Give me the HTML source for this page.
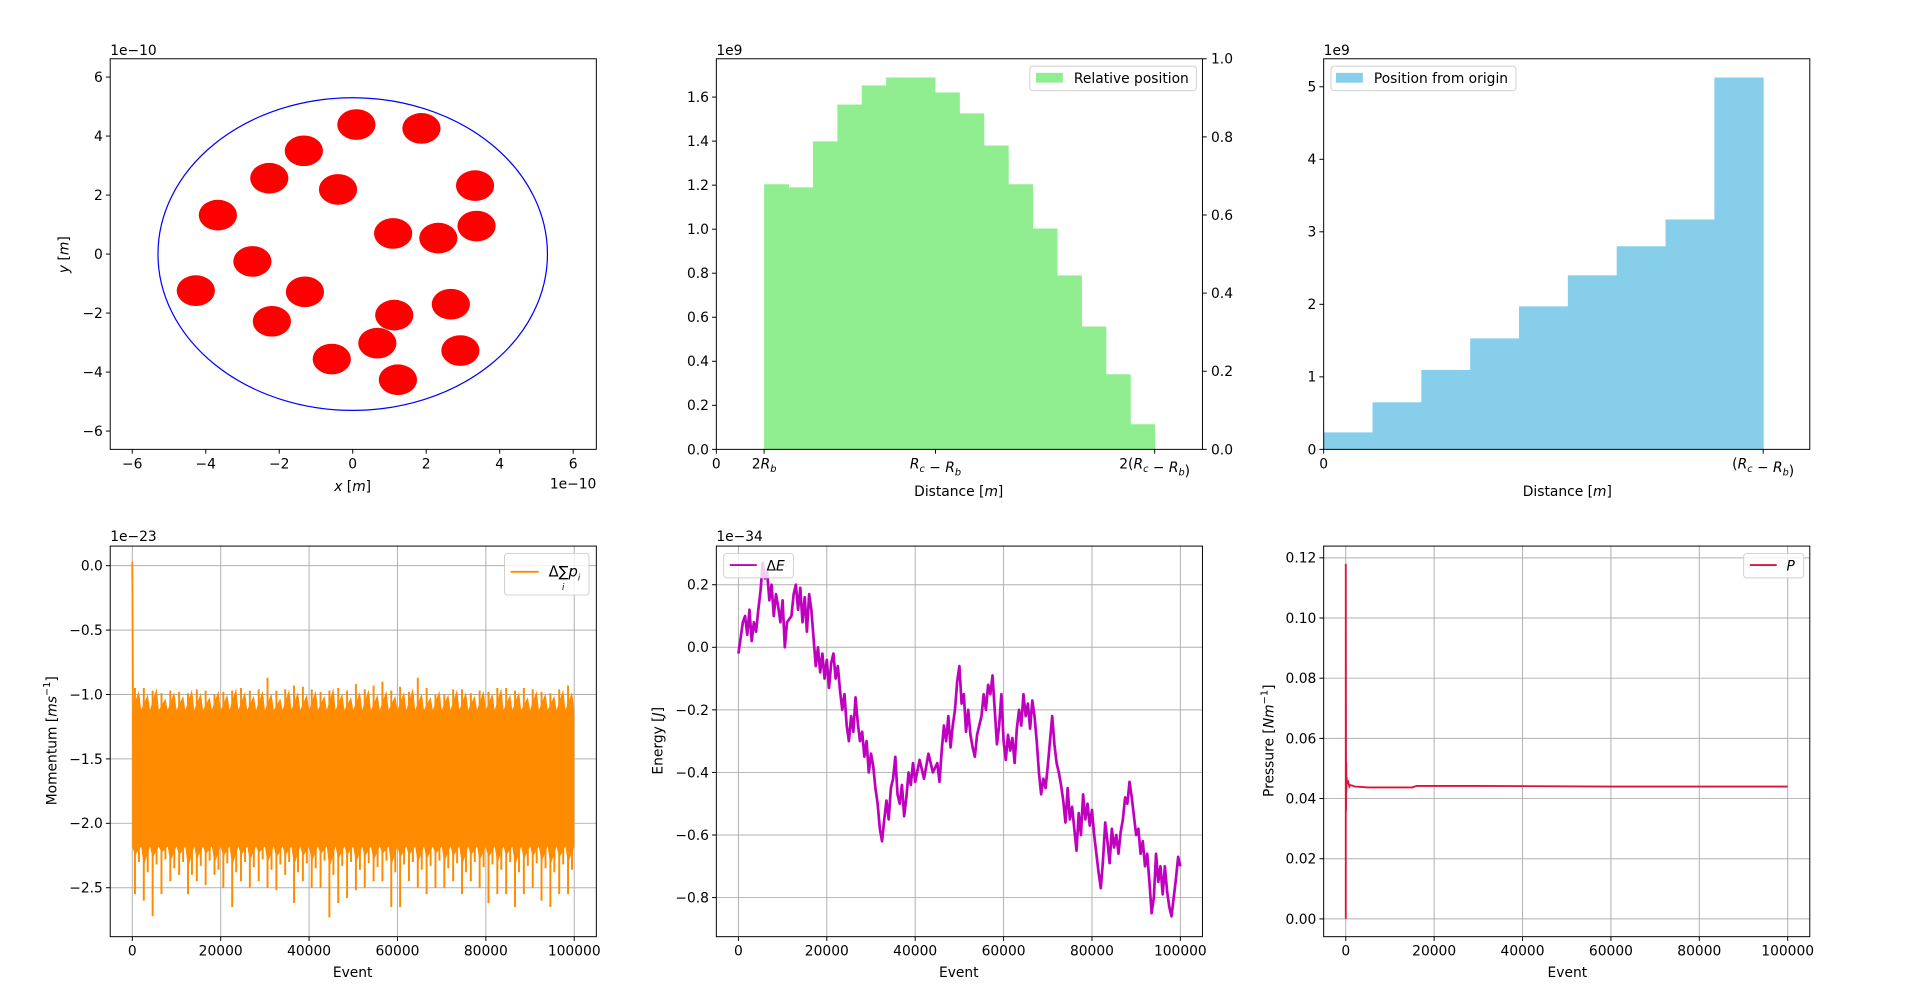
<!DOCTYPE html>
<html><head><meta charset="utf-8"><title>Simulation plots</title>
<style>
html,body{margin:0;padding:0;background:#fff;}
svg{display:block;font-family:"DejaVu Sans","Liberation Sans",sans-serif;}
</style></head>
<body>
<svg id="fig" xmlns="http://www.w3.org/2000/svg" width="1920" height="993" viewBox="0 0 1568 811" preserveAspectRatio="none"></svg>
<script>
// ---------- data ----------
const ballX = [0.1,1.87,-1.33,-2.27,-0.4,3.33,-3.67,1.1,2.33,3.37,-2.73,-4.27,-1.3,1.13,2.67,-2.2,0.67,-0.57,2.93,1.23];
const ballY = [4.39,4.26,3.5,2.57,2.19,2.32,1.32,0.7,0.54,0.95,-0.25,-1.24,-1.28,-2.07,-1.7,-2.28,-3.02,-3.56,-3.27,-4.26];
const ballRadius = 0.52;
const containerRadius = 5.3;
const posTicks = [-6,-4,-2,0,2,4,6];

const relCounts = [1.204,1.19,1.399,1.566,1.653,1.689,1.689,1.621,1.526,1.380,1.204,1.003,0.79,0.558,0.341,0.114];
const relStart = 0.218, relEnd = 2.0;
const relYTicks = [0,0.2,0.4,0.6,0.8,1.0,1.2,1.4,1.6];
const relRightTicks = [0,0.2,0.4,0.6,0.8,1.0];

const originCounts = [0.234,0.649,1.095,1.53,1.972,2.4,2.80,3.17,5.128];
const originYTicks = [0,1,2,3,4,5];

const eventTicks = [0,20000,40000,60000,80000,100000];
const momBinSize = 2000;
const momHigh = [-0.95,-0.95,-0.97,-0.99,-0.97,-0.98,-0.99,-0.96,-0.97,-1.0,-0.98,-0.97,-0.95,-0.97,-0.96,-0.87,-0.97,-0.96,-0.93,-0.94,-0.96,-0.98,-0.97,-0.95,-0.97,-0.92,-0.96,-0.93,-0.90,-0.97,-0.94,-0.98,-0.87,-0.95,-1.0,-1.0,-0.96,-0.96,-0.99,-0.97,-0.98,-0.95,-0.95,-0.97,-0.95,-0.96,-0.98,-0.99,-0.96,-0.93];
const momLow = [-2.55,-2.60,-2.72,-2.55,-2.45,-2.40,-2.55,-2.45,-2.48,-2.40,-2.50,-2.65,-2.45,-2.50,-2.45,-2.50,-2.52,-2.40,-2.62,-2.45,-2.50,-2.50,-2.73,-2.62,-2.58,-2.52,-2.50,-2.45,-2.45,-2.65,-2.65,-2.45,-2.50,-2.55,-2.50,-2.50,-2.45,-2.55,-2.45,-2.50,-2.62,-2.55,-2.55,-2.65,-2.55,-2.50,-2.60,-2.65,-2.55,-2.55];
const momHigh2 = [-1.02,-1.05,-1.0,-1.08,-1.03,-1.06,-1.01,-1.04,-1.07,-1.02,-1.05,-1.0,-1.03,-1.06,-1.02,-1.04,-1.08,-1.01,-1.03,-1.05,-1.02,-1.06,-1.0,-1.04,-1.07,-1.03,-1.01,-1.05,-1.02,-1.06,-1.03,-1.0,-1.04,-1.07,-1.02,-1.05,-1.01,-1.03,-1.06,-1.02,-1.04,-1.0,-1.05,-1.03,-1.07,-1.02,-1.04,-1.06,-1.01,-1.03];
const momLow2 = [-2.30,-2.38,-2.32,-2.28,-2.35,-2.30,-2.40,-2.33,-2.29,-2.36,-2.31,-2.38,-2.30,-2.34,-2.28,-2.36,-2.32,-2.30,-2.38,-2.31,-2.35,-2.29,-2.40,-2.33,-2.30,-2.36,-2.31,-2.34,-2.29,-2.38,-2.32,-2.30,-2.36,-2.33,-2.29,-2.35,-2.31,-2.38,-2.30,-2.34,-2.32,-2.36,-2.30,-2.38,-2.33,-2.31,-2.35,-2.38,-2.32,-2.36];
const momCoreHigh = -1.12, momCoreLow = -2.18;
const momSpikeX = [0,0,150,300];
const momSpikeY = [-0.1,0.03,-1.0,-2.2];
const momYTicks = [0,-0.5,-1.0,-1.5,-2.0,-2.5];

const energyX = [0,500,1000,1500,2000,2500,3000,3500,4000,4500,5000,5500,6000,6500,7000,7500,8000,8500,9000,9500,10000,10500,11000,12000,12500,13000,13500,14000,14500,15000,15500,16000,16500,17000,17500,18000,18500,19000,19500,20000,20500,21000,21500,22000,22500,23000,23500,24000,24500,25000,25500,26000,26500,27000,27500,28000,28500,29000,29500,30000,30500,31000,31500,32000,32500,33000,33500,34000,34500,35000,35500,36000,36500,37000,37500,38000,38500,39000,39500,40000,41000,42000,43000,44000,45000,45500,46000,46500,47000,47500,48000,48500,49000,49500,50000,50500,51000,51500,52000,52500,53000,53500,54000,55000,55500,56000,56500,57000,57500,58000,58500,59000,59500,60000,60500,61000,61500,62000,62500,63000,63500,64000,64500,65000,65500,66000,66500,67000,67500,68000,68500,69000,69500,70000,70500,71000,71500,72000,72500,73000,73500,74000,74500,75000,75500,76000,76500,77000,77500,78000,78500,79000,79500,80000,80500,81000,81500,82000,82500,83000,83500,84000,84500,85000,85500,86000,86500,87000,87500,88000,88500,89000,89500,90000,90500,91000,91500,92000,92500,93000,93500,94000,94500,95000,95500,96000,96500,97000,97500,98000,98500,99000,99500,100000];
const energyY = [-0.02,0.03,0.08,0.10,0.04,0.12,0.02,0.08,0.05,0.12,0.18,0.27,0.22,0.24,0.15,0.20,0.10,0.17,0.13,0.08,0.15,0.0,0.08,0.10,0.17,0.20,0.12,0.19,0.08,0.16,0.05,0.17,0.12,0.03,-0.06,0.0,-0.08,-0.02,-0.10,-0.04,-0.13,-0.05,-0.02,-0.10,-0.06,-0.14,-0.20,-0.15,-0.25,-0.30,-0.22,-0.27,-0.16,-0.24,-0.30,-0.27,-0.35,-0.30,-0.40,-0.34,-0.38,-0.45,-0.50,-0.58,-0.62,-0.55,-0.49,-0.55,-0.45,-0.42,-0.35,-0.47,-0.50,-0.44,-0.54,-0.48,-0.40,-0.44,-0.37,-0.43,-0.36,-0.42,-0.34,-0.40,-0.37,-0.43,-0.33,-0.25,-0.30,-0.22,-0.32,-0.25,-0.20,-0.11,-0.06,-0.18,-0.15,-0.27,-0.20,-0.28,-0.32,-0.35,-0.28,-0.22,-0.15,-0.20,-0.12,-0.15,-0.09,-0.20,-0.31,-0.25,-0.15,-0.30,-0.36,-0.28,-0.33,-0.29,-0.37,-0.26,-0.20,-0.25,-0.15,-0.22,-0.18,-0.26,-0.17,-0.22,-0.30,-0.40,-0.47,-0.42,-0.45,-0.38,-0.30,-0.22,-0.31,-0.37,-0.40,-0.44,-0.49,-0.56,-0.45,-0.55,-0.51,-0.58,-0.65,-0.53,-0.60,-0.47,-0.55,-0.50,-0.57,-0.52,-0.60,-0.66,-0.72,-0.77,-0.68,-0.56,-0.62,-0.69,-0.58,-0.64,-0.60,-0.66,-0.59,-0.55,-0.48,-0.50,-0.43,-0.48,-0.54,-0.60,-0.58,-0.66,-0.62,-0.70,-0.66,-0.75,-0.85,-0.80,-0.66,-0.75,-0.70,-0.79,-0.70,-0.78,-0.83,-0.86,-0.80,-0.74,-0.67,-0.70];
const energyYTicks = [0.2,0.0,-0.2,-0.4,-0.6,-0.8];

const pressX = [0,0,60,100,150,200,300,500,800,1000,1500,2000,3000,5000,10000,15000,16000,30000,60000,100000];
const pressY = [0.0,0.118,0.036,0.052,0.042,0.047,0.045,0.046,0.044,0.0445,0.0443,0.044,0.0439,0.0437,0.0437,0.0437,0.0442,0.0442,0.0440,0.0440];
const pressYTicks = [0,0.02,0.04,0.06,0.08,0.10,0.12];

// ---------- helpers ----------
const NS = "http://www.w3.org/2000/svg";
const svg = document.getElementById('fig');
const FS = 11.3;
function mk(tag, attrs, name, parent) {
  const n = document.createElementNS(NS, tag);
  for (const k in attrs) n.setAttribute(k, attrs[k]);
  
  
  (parent || svg).appendChild(n);
  return n;
}
function txt(x, y, s, name, opts) {
  opts = opts || {};
  const t = mk('text', {x:x, y:y, 'font-size':opts.size||FS, fill:'#000', 'text-anchor':opts.anchor||'start'}, name, opts.parent);
  if (opts.rotate) t.setAttribute('transform', 'rotate(-90 '+x+' '+y+')');
  if (opts.html) t.innerHTML = s; else t.textContent = s;
  return t;
}
function fmt(v, d) { const s = Math.abs(v).toFixed(d); return (v < -1e-12 ? '\u2212' : '') + s; }
function makeAxes(c) {
  const X = v => c.L + (v - c.x0) / (c.x1 - c.x0) * (c.R - c.L);
  const Y = v => c.B - (v - c.y0) / (c.y1 - c.y0) * (c.B - c.T);
  const g = mk('g', {}, c.name);
  c.g = g; c.X = X; c.Y = Y;
  return c;
}
function finishAxes(c) {
  const g = c.g;
  if (c.grid) {
    c.xt.forEach(v => mk('line', {x1:c.X(v), x2:c.X(v), y1:c.T, y2:c.B, stroke:'#b0b0b0', 'stroke-width':0.8}, 'x-grid-line', c.gridG));
    c.yt.forEach(v => mk('line', {x1:c.L, x2:c.R, y1:c.Y(v), y2:c.Y(v), stroke:'#b0b0b0', 'stroke-width':0.8}, 'y-grid-line', c.gridG));
  }
  mk('rect', {x:c.L, y:c.T, width:c.R-c.L, height:c.B-c.T, fill:'none', stroke:'#000', 'stroke-width':0.8}, 'axes-frame', g);
  c.xt.forEach((v,i) => {
    const x = c.X(v);
    mk('line', {x1:x, x2:x, y1:c.B, y2:c.B+3.5, stroke:'#000', 'stroke-width':0.8}, 'x-tick', g);
    txt(x, c.B+15.5, c.xl[i], 'x-tick-label', {anchor:'middle', parent:g, html:true});
  });
  c.yt.forEach((v,i) => {
    const y = c.Y(v);
    mk('line', {x1:c.L-3.5, x2:c.L, y1:y, y2:y, stroke:'#000', 'stroke-width':0.8}, 'y-tick', g);
    txt(c.L-6, y+4, c.yl[i], 'y-tick-label', {anchor:'end', parent:g});
  });
}
function clipFor(c, id) {
  const cp = mk('clipPath', {id:id}, 'clip-region');
  mk('rect', {x:c.L, y:c.T, width:c.R-c.L, height:c.B-c.T}, 'clip-rect', cp);
  return 'url(#'+id+')';
}
const I = s => '<tspan font-style="italic">'+s+'</tspan>';
const SUB = s => '<tspan font-style="italic" font-size="8" dy="3">'+s+'</tspan><tspan dy="-3"></tspan>';

// ---------- plot 1: positions ----------
(function(){
  const c = makeAxes({name:'positions-plot', L:90, T:48, R:487, B:367, x0:-6.6, x1:6.63, y0:-6.62, y1:6.62});
  c.xt = posTicks; c.xl = posTicks.map(v=>fmt(v,0));
  c.yt = posTicks; c.yl = posTicks.map(v=>fmt(v,0));
  const k = (c.X(1)-c.X(0)), ky = (c.Y(0)-c.Y(1));
  mk('ellipse', {cx:c.X(0), cy:c.Y(0), rx:containerRadius*k, ry:containerRadius*ky, fill:'none', stroke:'#0000ff', 'stroke-width':1}, 'container-circle', c.g);
  ballX.forEach((bx,i) => {
    mk('ellipse', {cx:c.X(bx), cy:c.Y(ballY[i]), rx:ballRadius*k, ry:ballRadius*ky, fill:'#ff0000'}, 'ball', c.g);
  });
  finishAxes(c);
  txt(90, 45, '1e\u221210', 'x-offset-text-top');
  txt(487, 399, '1e\u221210', 'x-offset-text', {anchor:'end'});
  txt(288, 401, I('x')+' ['+I('m')+']', 'x-axis-title', {anchor:'middle', html:true});
  txt(56, 208, I('y')+' ['+I('m')+']', 'y-axis-title', {anchor:'middle', html:true, rotate:true});
})();

// ---------- plot 2: relative position histogram ----------
(function(){
  const c = makeAxes({name:'relative-position-histogram', L:585, T:48, R:982, B:367, x0:0, x1:2.218, y0:0, y1:1.774});
  const w = (relEnd - relStart) / relCounts.length;
  relCounts.forEach((v,i) => {
    const x0 = c.X(relStart + i*w), x1 = c.X(relStart + (i+1)*w);
    mk('rect', {x:x0, y:c.Y(v), width:x1-x0+0.4, height:c.Y(0)-c.Y(v), fill:'#90ee90'}, 'histogram-bar', c.g);
  });
  c.xt = [0, relStart, 1, 2];
  c.xl = ['0', '2'+I('R')+SUB('b'), I('R')+SUB('c')+' \u2212 '+I('R')+SUB('b'), '2('+I('R')+SUB('c')+' \u2212 '+I('R')+SUB('b')+')'];
  c.yt = relYTicks; c.yl = relYTicks.map(v=>v.toFixed(1));
  finishAxes(c);
  relRightTicks.forEach(v => {
    const y = c.B - v*(c.B-c.T);
    mk('line', {x1:c.R, x2:c.R+3.5, y1:y, y2:y, stroke:'#000', 'stroke-width':0.8}, 'right-y-tick', c.g);
    txt(c.R+7, y+4, v.toFixed(1), 'right-y-tick-label');
  });
  txt(585, 45, '1e9', 'y-offset-text');
  txt(783, 405, 'Distance ['+I('m')+']', 'x-axis-title', {anchor:'middle', html:true});
  const lg = mk('g', {}, 'legend');
  mk('rect', {x:841, y:54, width:136, height:20, rx:2.5, fill:'#fff', 'fill-opacity':0.8, stroke:'#d0d0d0', 'stroke-width':0.8}, 'legend-box', lg);
  mk('rect', {x:846, y:59.5, width:22, height:8, fill:'#90ee90'}, 'legend-swatch', lg);
  txt(877, 68, 'Relative position', 'legend-entry', {parent:lg});
})();

// ---------- plot 3: position from origin histogram ----------
(function(){
  const c = makeAxes({name:'origin-position-histogram', L:1081, T:48, R:1478, B:367, x0:0, x1:1.106, y0:0, y1:5.386});
  const w = 1 / originCounts.length;
  originCounts.forEach((v,i) => {
    const x0 = c.X(i*w), x1 = c.X((i+1)*w);
    mk('rect', {x:x0, y:c.Y(v), width:x1-x0+0.4, height:c.Y(0)-c.Y(v), fill:'#87ceeb'}, 'histogram-bar', c.g);
  });
  c.xt = [0, 1]; c.xl = ['0', '('+I('R')+SUB('c')+' \u2212 '+I('R')+SUB('b')+')'];
  c.yt = originYTicks; c.yl = originYTicks.map(v=>String(v));
  finishAxes(c);
  txt(1081, 45, '1e9', 'y-offset-text');
  txt(1280, 405, 'Distance ['+I('m')+']', 'x-axis-title', {anchor:'middle', html:true});
  const lg = mk('g', {}, 'legend');
  mk('rect', {x:1087, y:54, width:151, height:20, rx:2.5, fill:'#fff', 'fill-opacity':0.8, stroke:'#d0d0d0', 'stroke-width':0.8}, 'legend-box', lg);
  mk('rect', {x:1091, y:59.5, width:22, height:8, fill:'#87ceeb'}, 'legend-swatch', lg);
  txt(1122, 68, 'Position from origin', 'legend-entry', {parent:lg});
})();

// ---------- plot 4: momentum ----------
(function(){
  const c = makeAxes({name:'momentum-plot', L:90, T:446, R:487, B:765, x0:-5000, x1:105000, y0:-2.88, y1:0.152});
  c.gridG = mk('g', {}, 'grid', c.g);
  c.grid = true;
  const cl = clipFor(c, 'clipMom');
  const sg = mk('g', {'clip-path':cl}, 'momentum-series', c.g);
  const x0 = c.X(0), xEnd = c.X(momBinSize*momHigh.length);
  mk('rect', {x:x0, y:c.Y(momCoreHigh), width:xEnd-x0, height:c.Y(momCoreLow)-c.Y(momCoreHigh), fill:'#ff8c00'}, 'momentum-core-band', sg);
  momHigh.forEach((h,i) => {
    const xa = c.X(i*momBinSize), xb = c.X((i+1)*momBinSize);
    const xm = xa + (xb-xa)*0.3, xq = xa + (xb-xa)*0.75;
    mk('line', {x1:xm, x2:xm, y1:c.Y(h), y2:c.Y(momLow[i]), stroke:'#ff8c00', 'stroke-width':1.6}, 'momentum-extreme-spike', sg);
    mk('line', {x1:xq, x2:xq, y1:c.Y(momHigh2[i]), y2:c.Y(momLow2[i]), stroke:'#ff8c00', 'stroke-width':1.6}, 'momentum-secondary-spike', sg);
    const d = 'M'+xa+','+c.Y(momCoreHigh)+' L'+xq+','+c.Y(momHigh2[i]+0.05)+' L'+xb+','+c.Y(momCoreHigh)+
              ' L'+xb+','+c.Y(momCoreLow)+' L'+xm+','+c.Y(momLow2[i]+0.05)+' L'+xa+','+c.Y(momCoreLow)+'Z';
    mk('path', {d:d, fill:'#ff8c00'}, 'momentum-bin', sg);
  });
  mk('polyline', {points:momSpikeX.map((x,i)=>c.X(x)+','+c.Y(momSpikeY[i])).join(' '), fill:'none', stroke:'#ff8c00', 'stroke-width':1.5}, 'momentum-initial-spike', sg);
  c.xt = eventTicks; c.xl = eventTicks.map(String);
  c.yt = momYTicks; c.yl = momYTicks.map(v=>fmt(v,1));
  finishAxes(c);
  txt(90, 442, '1e\u221223', 'y-offset-text');
  txt(288, 798, 'Event', 'x-axis-title', {anchor:'middle'});
  txt(46, 605, 'Momentum ['+I('ms')+'<tspan font-size="8" dy="-5">\u22121</tspan><tspan dy="5">]</tspan>', 'y-axis-title', {anchor:'middle', html:true, rotate:true});
  const lg = mk('g', {}, 'legend');
  mk('rect', {x:412, y:452, width:69, height:34, rx:2.5, fill:'#fff', 'fill-opacity':0.8, stroke:'#d0d0d0', 'stroke-width':0.8}, 'legend-box', lg);
  mk('line', {x1:417, x2:440, y1:467, y2:467, stroke:'#ff8c00', 'stroke-width':1.5}, 'legend-line', lg);
  txt(448, 471, '\u0394\u2211'+I('p')+'<tspan font-style="italic" font-size="7" dy="3">i</tspan>', 'legend-entry', {parent:lg, html:true, size:12});
  txt(459, 482, I('i'), 'legend-subscript', {parent:lg, html:true, size:7});
})();

// ---------- plot 5: energy ----------
(function(){
  const c = makeAxes({name:'energy-plot', L:585, T:446, R:982, B:765, x0:-5000, x1:105000, y0:-0.925, y1:0.3235});
  c.gridG = mk('g', {}, 'grid', c.g);
  c.grid = true;
  const cl = clipFor(c, 'clipEn');
  mk('polyline', {points:energyX.map((x,i)=>c.X(x)+','+c.Y(energyY[i])).join(' '), fill:'none', stroke:'#bf00bf', 'stroke-width':2.2, 'stroke-linejoin':'round', 'clip-path':cl}, 'energy-line', c.g);
  c.xt = eventTicks; c.xl = eventTicks.map(String);
  c.yt = energyYTicks; c.yl = energyYTicks.map(v=>fmt(v,1));
  finishAxes(c);
  txt(585, 442, '1e\u221234', 'y-offset-text');
  txt(783, 798, 'Event', 'x-axis-title', {anchor:'middle'});
  txt(541, 605, 'Energy ['+I('J')+']', 'y-axis-title', {anchor:'middle', html:true, rotate:true});
  const lg = mk('g', {}, 'legend');
  mk('rect', {x:591, y:452, width:57, height:20, rx:2.5, fill:'#fff', 'fill-opacity':0.8, stroke:'#d0d0d0', 'stroke-width':0.8}, 'legend-box', lg);
  mk('line', {x1:596, x2:618, y1:461.5, y2:461.5, stroke:'#bf00bf', 'stroke-width':1.5}, 'legend-line', lg);
  txt(626, 466, '\u0394'+I('E'), 'legend-entry', {parent:lg, html:true});
})();

// ---------- plot 6: pressure ----------
(function(){
  const c = makeAxes({name:'pressure-plot', L:1081, T:446, R:1478, B:765, x0:-5000, x1:105000, y0:-0.0059, y1:0.1239});
  c.gridG = mk('g', {}, 'grid', c.g);
  c.grid = true;
  const cl = clipFor(c, 'clipPr');
  mk('polyline', {points:pressX.map((x,i)=>c.X(x)+','+c.Y(pressY[i])).join(' '), fill:'none', stroke:'#dc143c', 'stroke-width':1.5, 'clip-path':cl}, 'pressure-line', c.g);
  c.xt = eventTicks; c.xl = eventTicks.map(String);
  c.yt = pressYTicks; c.yl = pressYTicks.map(v=>v.toFixed(2));
  finishAxes(c);
  txt(1280, 798, 'Event', 'x-axis-title', {anchor:'middle'});
  txt(1040, 605, 'Pressure ['+I('Nm')+'<tspan font-size="8" dy="-5">\u22121</tspan><tspan dy="5">]</tspan>', 'y-axis-title', {anchor:'middle', html:true, rotate:true});
  const lg = mk('g', {}, 'legend');
  mk('rect', {x:1424, y:452, width:49, height:20, rx:2.5, fill:'#fff', 'fill-opacity':0.8, stroke:'#d0d0d0', 'stroke-width':0.8}, 'legend-box', lg);
  mk('line', {x1:1429, x2:1451, y1:461.5, y2:461.5, stroke:'#dc143c', 'stroke-width':1.5}, 'legend-line', lg);
  txt(1459, 466, I('P'), 'legend-entry', {parent:lg, html:true});
})();
</script>
</body></html>
